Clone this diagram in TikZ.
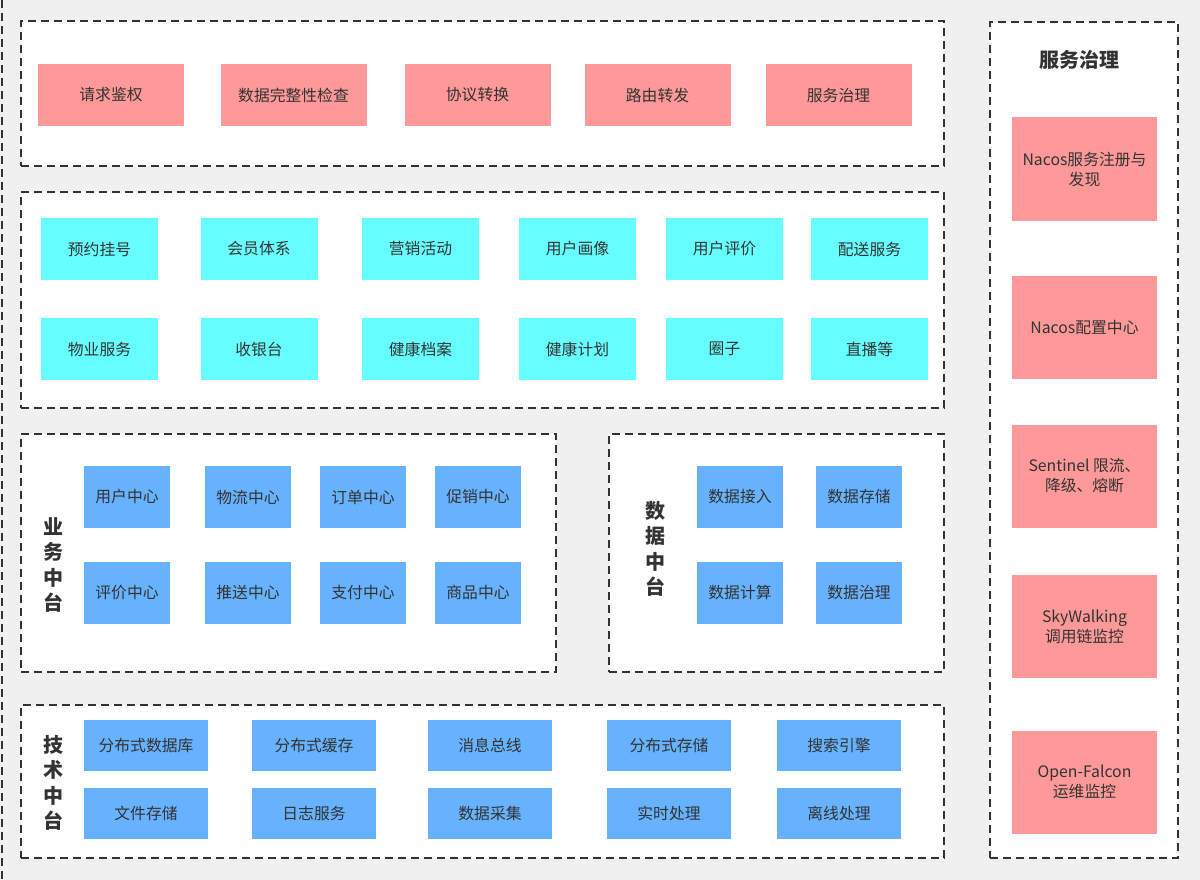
\documentclass[tikz,border=0pt]{standalone}
\usepackage{fontspec}
\setmainfont{Noto Sans CJK SC}
\begin{document}
\begin{tikzpicture}[x=1pt,y=-1pt,
  frame/.style={draw=black!80,line width=2pt,dash pattern=on 8pt off 5pt,fill=white,inner sep=0pt,outer sep=0pt},
  box/.style={draw=none,inner sep=0pt,outer sep=0pt,text=black!80,font=\fontsize{15.8}{20}\selectfont,align=center},
  pinkbox/.style={box,fill=pinkc},
  cyanbox/.style={box,fill=cyanc,minimum width=117pt,minimum height=62pt},
  bluebox/.style={box,fill=bluec},
  vlabel/.style={text=black!80,font=\bfseries\fontsize{20}{25.5}\selectfont,align=center,inner sep=0pt},
]
\definecolor{pinkc}{HTML}{FF9999}
\definecolor{cyanc}{HTML}{66FFFF}
\definecolor{bluec}{HTML}{66B2FF}
\definecolor{bgc}{HTML}{F0F0F0}
\useasboundingbox (0,0) rectangle (1200,880);
\fill[bgc] (0,0) rectangle (1200,880);
\coordinate (lt) at (2,0);
\coordinate (lb) at (2,880);
\draw[black!80,line width=2pt,dash pattern=on 8pt off 5pt] (lt) -- (lb);

% containers
\node[frame,minimum width=923pt,minimum height=145pt] (c1) at (482.5,93.5) {};
\node[frame,minimum width=923pt,minimum height=216pt] (c2) at (482.5,300) {};
\node[frame,minimum width=535pt,minimum height=238pt] (c3) at (288.5,553) {};
\node[frame,minimum width=335pt,minimum height=238pt] (c4) at (776.5,553) {};
\node[frame,minimum width=923pt,minimum height=153pt] (c5) at (482.5,781.5) {};
\node[frame,minimum width=188pt,minimum height=836pt] (c6) at (1084,440) {};

% row 1
\begin{scope}[every node/.style={pinkbox,minimum width=146pt,minimum height=62pt}]
\node (a1) at (111,95) {请求鉴权};
\node (a2) at (293.5,95) {数据完整性检查};
\node (a3) at (477.5,95) {协议转换};
\node (a4) at (657.5,95) {路由转发};
\node (a5) at (838.5,95) {服务治理};
\end{scope}

% row 2
\node[cyanbox] (b1) at (99.5,249) {预约挂号};
\node[cyanbox] (b2) at (259,249) {会员体系};
\node[cyanbox] (b3) at (420.5,249) {营销活动};
\node[cyanbox] (b4) at (577.5,249) {用户画像};
\node[cyanbox] (b5) at (724.5,249) {用户评价};
\node[cyanbox] (b6) at (869.5,249) {配送服务};
\node[cyanbox] (b7) at (99.5,349) {物业服务};
\node[cyanbox] (b8) at (259,349) {收银台};
\node[cyanbox] (b9) at (420.5,349) {健康档案};
\node[cyanbox] (b10) at (577.5,349) {健康计划};
\node[cyanbox] (b11) at (724.5,349) {圈子};
\node[cyanbox] (b12) at (869.5,349) {直播等};

% business
\node[vlabel] (l1) at (53,565) {业\\务\\中\\台};
\begin{scope}[every node/.style={bluebox,minimum width=86pt,minimum height=62pt}]
\node (d1) at (127,497) {用户中心};
\node (d2) at (248,497) {物流中心};
\node (d3) at (363,497) {订单中心};
\node (d4) at (478,497) {促销中心};
\node (d5) at (127,592.5) {评价中心};
\node (d6) at (248,592.5) {推送中心};
\node (d7) at (363,592.5) {支付中心};
\node (d8) at (478,592.5) {商品中心};
\node (e1) at (740,497) {数据接入};
\node (e2) at (859,497) {数据存储};
\node (e3) at (740,592.5) {数据计算};
\node (e4) at (859,592.5) {数据治理};
\end{scope}
\node[vlabel] (l2) at (655,549) {数\\据\\中\\台};

% tech
\node[vlabel] (l3) at (53,783) {技\\术\\中\\台};
\begin{scope}[every node/.style={bluebox,minimum width=124pt,minimum height=51pt}]
\node (f1) at (146,745.5) {分布式数据库};
\node (f2) at (314,745.5) {分布式缓存};
\node (f3) at (490,745.5) {消息总线};
\node (f4) at (669,745.5) {分布式存储};
\node (f5) at (839,745.5) {搜索引擎};
\node (f6) at (146,813.5) {文件存储};
\node (f7) at (314,813.5) {日志服务};
\node (f8) at (490,813.5) {数据采集};
\node (f9) at (669,813.5) {实时处理};
\node (f10) at (839,813.5) {离线处理};
\end{scope}

% governance
\node[vlabel] (t6) at (1079,60) {服务治理};
\begin{scope}[every node/.style={pinkbox,minimum width=145pt,minimum height=103pt}]
\node (g1) at (1084.5,169) {Nacos服务注册与\\发现};
\node (g2) at (1084.5,327.5) {Nacos配置中心};
\node (g3) at (1084.5,476) {Sentinel 限流、\\降级、熔断};
\node (g4) at (1084.5,626.5) {SkyWalking\\调用链监控};
\node (g5) at (1084.5,782) {Open-Falcon\\运维监控};
\end{scope}
\end{tikzpicture}
\end{document}
